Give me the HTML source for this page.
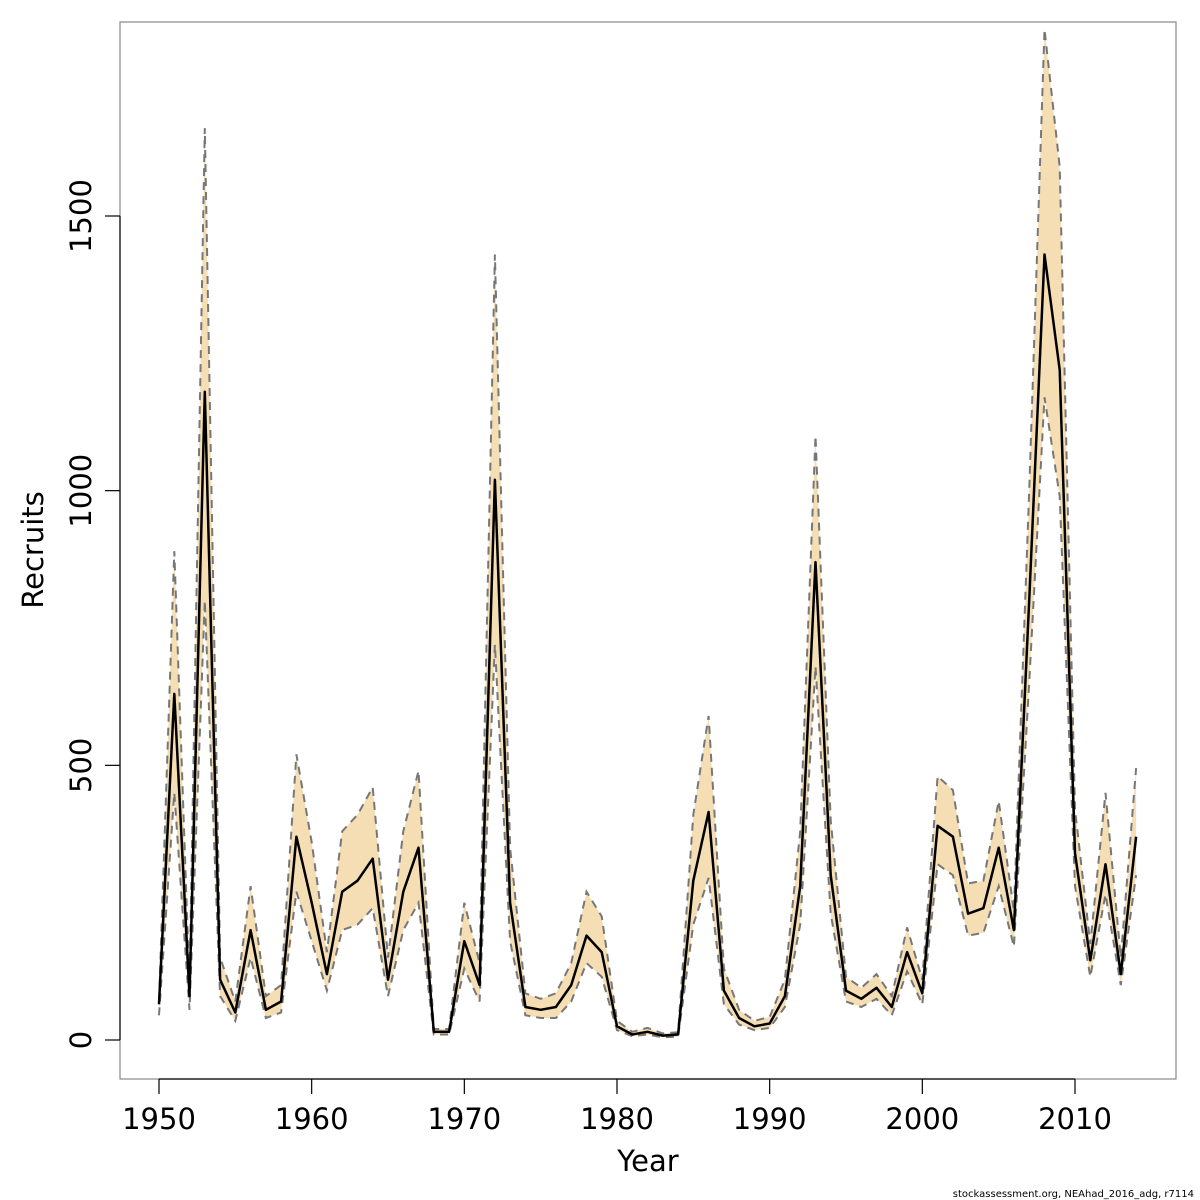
<!DOCTYPE html>
<html><head><meta charset="utf-8"><style>
body{margin:0;background:#fff}
svg{display:block;font-family:"DejaVu Sans","Liberation Sans",sans-serif}
</style></head><body>
<svg id="chart" width="1200" height="1200">
  <rect x="120" y="22" width="1056" height="1057" fill="none" stroke="#888" stroke-width="1.2"/>
  <g id="band"></g>
  <g id="lines"></g>
  <g id="xaxis"></g>
  <g id="yaxis"></g>
  <text x="648" y="1171" font-size="29" text-anchor="middle">Year</text>
  <text transform="translate(43,550) rotate(-90)" font-size="29" text-anchor="middle">Recruits</text>
  <text x="1194" y="1197" font-size="10" text-anchor="end">stockassessment.org, NEAhad_2016_adg, r7114</text>
</svg>
<script>
const years = [];
for (let y = 1950; y <= 2014; y++) years.push(y);
const est = [65,630,80,1180,110,50,200,55,70,370,250,120,270,290,330,110,270,350,15,15,180,100,1020,250,60,55,60,100,190,160,25,10,15,8,10,290,415,90,40,25,30,80,280,870,300,90,75,95,60,160,85,390,370,230,240,350,200,800,1430,1220,340,145,320,120,370];
const lo = [45,450,55,800,80,35,150,40,50,270,180,90,200,210,240,80,200,250,10,10,130,70,720,180,45,40,40,70,140,115,18,7,10,5,6,210,295,65,28,18,22,60,210,680,230,70,60,75,45,125,65,320,300,190,195,280,170,650,1170,990,280,115,265,100,300];
const hi = [70,890,100,1660,150,70,280,80,100,520,360,160,380,410,460,150,380,490,20,20,250,140,1430,350,85,75,85,140,270,225,35,15,22,12,14,410,590,130,55,35,42,110,380,1100,400,115,95,120,80,205,110,480,455,285,290,435,235,1000,1840,1590,420,175,450,150,495];
const xTicks = [1950,1960,1970,1980,1990,2000,2010];
const yTicks = [0,500,1000,1500];

const X = v => 159 + (v - 1950) * (1075 - 159) / 60;
const Y = v => 1040 - v * (1040 - 216) / 1500;
const NS = "http://www.w3.org/2000/svg";
function mk(tag, attrs, parent) {
  const e = document.createElementNS(NS, tag);
  for (const k in attrs) e.setAttribute(k, attrs[k]);
  parent.appendChild(e);
  return e;
}
const pts = arr => arr.map((v, i) => X(years[i]).toFixed(1) + "," + Y(v).toFixed(1));

const band = document.getElementById("band");
const poly = mk("polygon", {points: pts(hi).concat(pts(lo).reverse()).join(" "), fill: "#f5deb3", stroke: "none"}, band);



const lines = document.getElementById("lines");
const up = mk("polyline", {points: pts(hi).join(" "), fill: "none", stroke: "#777", "stroke-width": 2, "stroke-dasharray": "8,6"}, lines);


const dn = mk("polyline", {points: pts(lo).join(" "), fill: "none", stroke: "#777", "stroke-width": 2, "stroke-dasharray": "8,6"}, lines);


const me = mk("polyline", {points: pts(est).join(" "), fill: "none", stroke: "#000", "stroke-width": 2.5, "stroke-linejoin": "round"}, lines);



const xa = document.getElementById("xaxis");
const xl = mk("line", {x1: X(1950), x2: X(2010), y1: 1079, y2: 1079, stroke: "#000", "stroke-width": 1.2}, xa);


xTicks.forEach(t => {
  const tk = mk("line", {x1: X(t), x2: X(t), y1: 1079, y2: 1094, stroke: "#000", "stroke-width": 1.2}, xa);
  
  
  const tx = mk("text", {x: X(t), y: 1129, "font-size": 29, "text-anchor": "middle"}, xa);
  tx.textContent = t;
  
  
});
const ya = document.getElementById("yaxis");
const yl = mk("line", {x1: 120, x2: 120, y1: Y(0), y2: Y(1500), stroke: "#000", "stroke-width": 1.2}, ya);


yTicks.forEach(t => {
  const tk = mk("line", {x1: 105, x2: 120, y1: Y(t), y2: Y(t), stroke: "#000", "stroke-width": 1.2}, ya);
  
  
  const tx = mk("text", {transform: "translate(91," + Y(t) + ") rotate(-90)", "font-size": 29, "text-anchor": "middle"}, ya);
  tx.textContent = t;
  
  
});
</script>
</body></html>
